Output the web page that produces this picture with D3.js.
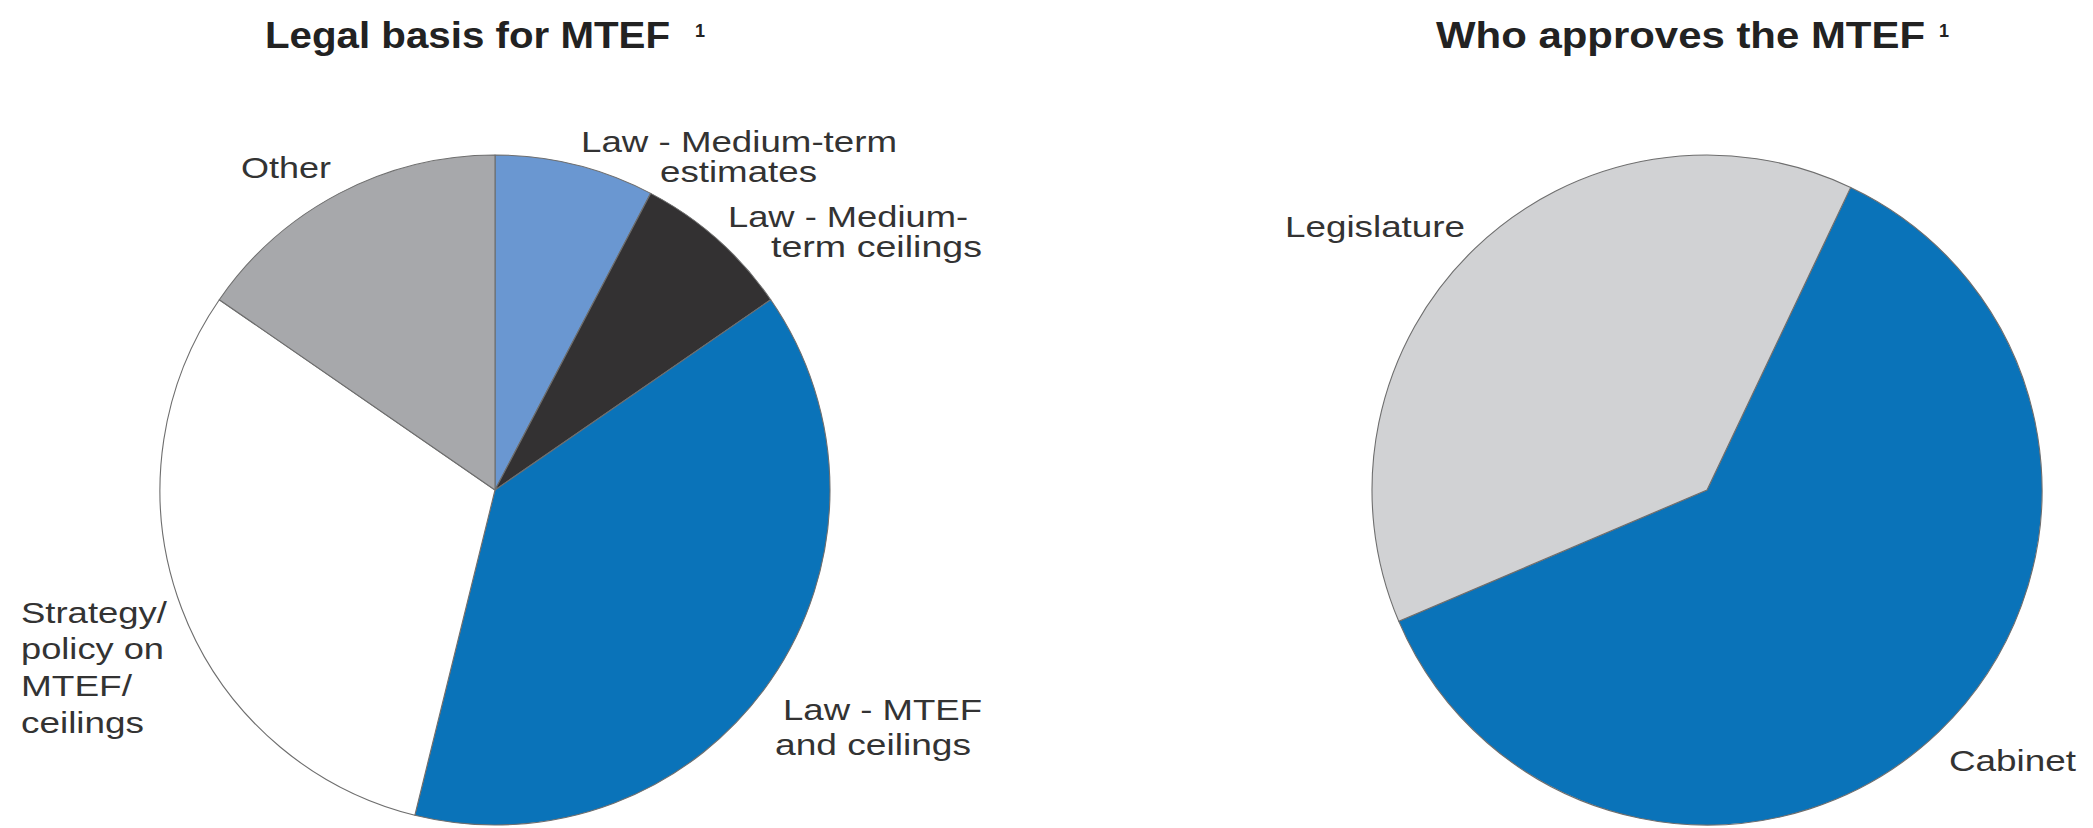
<!DOCTYPE html>
<html>
<head>
<meta charset="utf-8">
<script src="https://cdn.jsdelivr.net/npm/d3@7"></script>
<style>
  html, body { margin: 0; padding: 0; background: #ffffff; }
  svg { display: block; }
  text { font-family: "Liberation Sans", Arial, Helvetica, sans-serif; }
</style>
</head>
<body>
<svg id="chart" width="2093" height="828"></svg>
<script>
// ---- Data ----
const titles = ["Legal basis for MTEF", "Who approves the MTEF"];
const footnoteMark = "1";

const legalCategories = [
  "Law - Medium-term estimates",
  "Law - Medium-term ceilings",
  "Law - MTEF and ceilings",
  "Strategy/policy on MTEF/ceilings",
  "Other"
];
const legalValues = [2, 2, 10, 8, 4];

const approveCategories = ["Cabinet", "Legislature"];
const approveValues = [16, 10];

// label text lines, per category
const legalLabelLines = [
  ["Law - Medium-term", "estimates"],
  ["Law - Medium-", "term ceilings"],
  ["Law - MTEF", "and ceilings"],
  ["Strategy/", "policy on", "MTEF/", "ceilings"],
  ["Other"]
];
const approveLabelLines = [["Cabinet"], ["Legislature"]];

// ---- Styling / layout ----
const legalColors = ["#6a97d1", "#333132", "#0a73b9", "#ffffff", "#a7a8ab"];
const approveColors = ["#0a73b9", "#d1d2d4"];
const textColor = "#333333";
const radius = 335;

// label layout: [x, baseline y, width] per line
const legalLabelLayout = [
  [[581, 152, 316], [660, 182, 157]],
  [[728, 227, 240], [771, 257, 211]],
  [[783, 720, 199], [775, 755, 196]],
  [[21, 623, 146], [21, 659, 143], [21, 696, 111], [21, 733, 123]],
  [[241, 178, 90]]
];
const approveLabelLayout = [
  [[1949, 771, 127]],
  [[1285, 237, 180]]
];

const svg = d3.select("#chart");

function drawPie(cx, cy, values, colors, startDeg) {
  const start = startDeg * Math.PI / 180;
  const pie = d3.pie().sort(null).value(d => d)
    .startAngle(start).endAngle(start + 2 * Math.PI);
  const arc = d3.arc().innerRadius(0).outerRadius(radius);
  const g = svg.append("g").attr("transform", `translate(${cx},${cy})`);
  g.selectAll("path").data(pie(values)).join("path")
    .attr("d", arc)
    .attr("fill", (d, i) => colors[i])
    .attr("stroke", "#6e6e6e")
    .attr("stroke-width", 1.1)
    .attr("stroke-linejoin", "round");
  return g;
}

function drawLabels(lines, layout) {
  lines.forEach((ls, i) => {
    ls.forEach((t, j) => {
      const [x, y, w] = layout[i][j];
      svg.append("text")
        .attr("x", x).attr("y", y)
        .attr("font-size", 30)
        .attr("fill", textColor)
        .attr("textLength", w)
        .attr("lengthAdjust", "spacingAndGlyphs")
        .text(t);
    });
  });
}

function drawTitle(text, x, y, w, supX) {
  svg.append("text")
    .attr("x", x).attr("y", y)
    .attr("font-size", 37)
    .attr("font-weight", "bold")
    .attr("fill", "#222222")
    .attr("textLength", w)
    .attr("lengthAdjust", "spacingAndGlyphs")
    .text(text);
  svg.append("text")
    .attr("x", supX).attr("y", y - 11)
    .attr("font-size", 18)
    .attr("font-weight", "bold")
    .attr("fill", "#222222")
    .text(footnoteMark);
}

drawPie(495, 490, legalValues, legalColors, 0);
drawPie(1707, 490, approveValues, approveColors, 25.4);

drawTitle(titles[0], 265, 48, 405, 695);
drawTitle(titles[1], 1436, 48, 489, 1939);

drawLabels(legalLabelLines, legalLabelLayout);
drawLabels(approveLabelLines, approveLabelLayout);
</script>
</body>
</html>
